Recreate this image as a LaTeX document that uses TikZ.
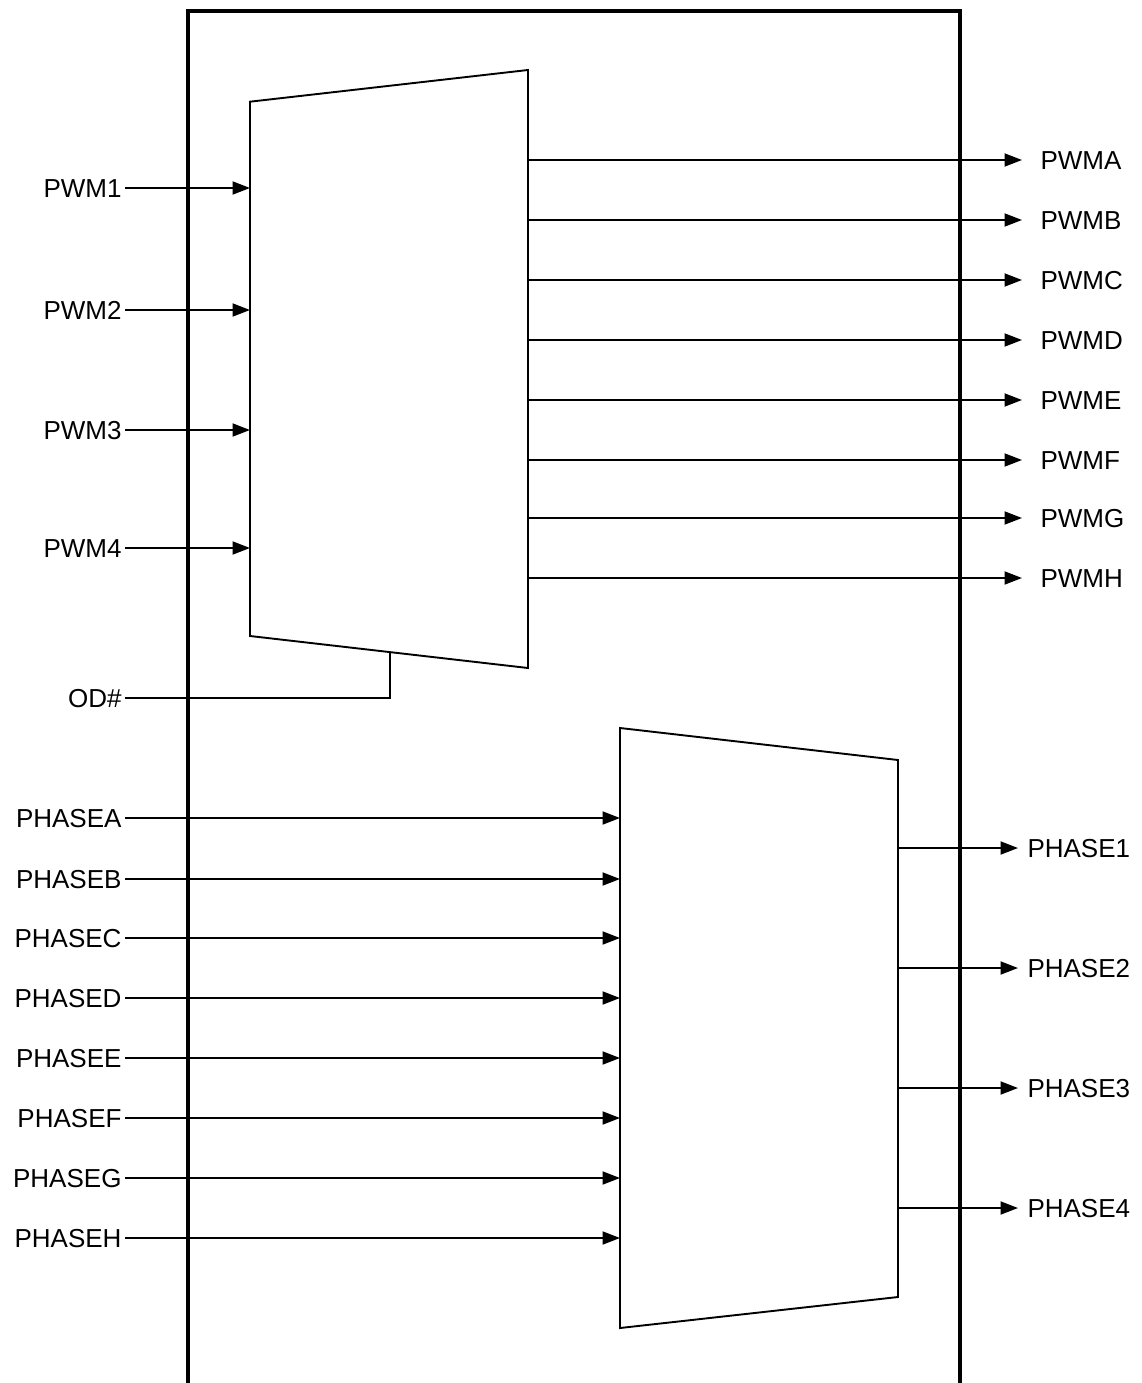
\documentclass[tikz,border=0pt]{standalone}
\usepackage{fontspec}
\setmainfont{Liberation Sans}
\usetikzlibrary{arrows.meta}
\begin{document}
\begin{tikzpicture}[x=1pt,y=-1pt,
  wire/.style={line width=1.9pt},
  sig/.style={wire,-{Triangle[length=17.5pt,width=13pt]}},
  frame/.style={line width=3.8pt},
  lab/.style={font=\fontsize{26}{30}\selectfont,text height=18.6pt,text depth=0pt,inner ysep=0pt,outer sep=0pt},
  inlab/.style={lab,anchor=east,inner xsep=3.5pt},
  pwmlab/.style={lab,anchor=west,inner xsep=18.5pt},
  phlab/.style={lab,anchor=west,inner xsep=9.5pt}]
\useasboundingbox (0,0) rectangle (1141,1383);
% outer frame (open at the bottom)
\draw[frame,line join=miter] (188,1390) -- (188,10.7) -- (960,10.7) -- (960,1390);
% top mux
\coordinate (tTL) at (250,101.7);
\coordinate (tTR) at (528,70);
\coordinate (tBR) at (528,668);
\coordinate (tBL) at (250,636);
\draw[wire,line join=miter] (tTL) -- (tTR) -- (tBR) -- (tBL) -- cycle;
% bottom mux
\coordinate (bTL) at (620,728);
\coordinate (bTR) at (898,760);
\coordinate (bBR) at (898,1297);
\coordinate (bBL) at (620,1328);
\draw[wire,line join=miter] (bTL) -- (bTR) -- (bBR) -- (bBL) -- cycle;
% PWM inputs
\foreach \n/\y in {1/188,2/310,3/430,4/548}{
  \node[inlab] (PWM\n) at (125,\y) {PWM\n};
  \coordinate (tin\n) at (250,\y);
  \draw[sig] (PWM\n.east) -- (tin\n);
}
% PWM outputs
\foreach \n/\y in {A/160,B/220,C/280,D/340,E/400,F/460,G/518,H/578}{
  \coordinate (tout\n) at (528,\y);
  \node[pwmlab] (PWM\n) at (1022,\y) {PWM\n};
  \draw[sig] (tout\n) -- (PWM\n.west);
}
% OD#
\node[inlab] (OD) at (125,698) {OD\#};
\coordinate (odc) at (390,698);
\coordinate (odt) at (390,651.7);
\draw[wire] (OD.east) -- (odc) -- (odt);
% PHASE inputs
\foreach \n/\y in {A/818,B/879,C/938,D/998,E/1058,F/1118,G/1178,H/1238}{
  \node[inlab] (PHASE\n) at (125,\y) {PHASE\n};
  \coordinate (bin\n) at (620,\y);
  \draw[sig] (PHASE\n.east) -- (bin\n);
}
% PHASE outputs
\foreach \n/\y in {1/848,2/968,3/1088,4/1208}{
  \coordinate (bout\n) at (898,\y);
  \node[phlab] (PHASE\n) at (1018,\y) {PHASE\n};
  \draw[sig] (bout\n) -- (PHASE\n.west);
}
\end{tikzpicture}
\end{document}
